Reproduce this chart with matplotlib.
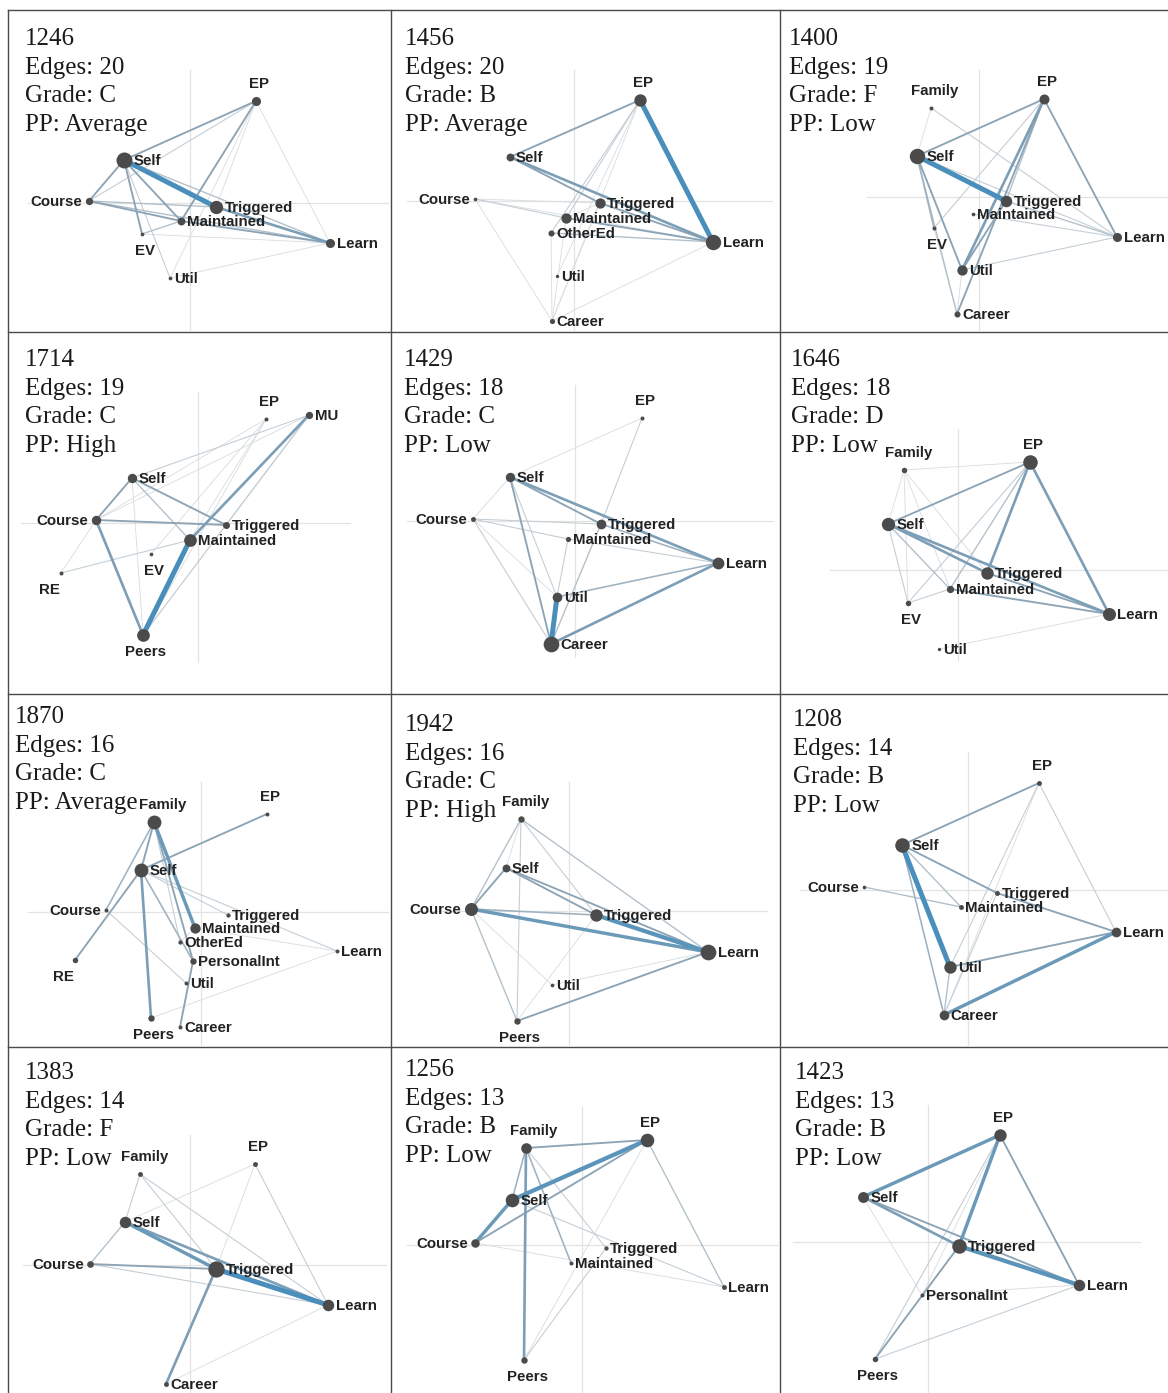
import numpy as np
import matplotlib.pyplot as plt
from matplotlib.colors import to_rgb

# participant info shown in each panel header
ids = ['1246', '1456', '1400', '1714', '1429', '1646',
       '1870', '1942', '1208', '1383', '1256', '1423']
n_edges = [20, 20, 19, 19, 18, 18, 16, 16, 14, 14, 13, 13]
grades = ['C', 'B', 'F', 'C', 'C', 'D', 'C', 'C', 'B', 'F', 'B', 'B']
pp = ['Average', 'Average', 'Low', 'High', 'Low', 'Low',
      'Average', 'High', 'Low', 'Low', 'Low', 'Low']

# node layout per network: name -> (x, y, strength)
nodes_1246 = {'EP': (248, 91, 2.2), 'Self': (116, 150, 4.5), 'Course': (81, 191, 1.6),
              'Triggered': (208, 197, 3.6), 'Maintained': (173, 211, 1.8),
              'EV': (134, 224, 0.4), 'Learn': (322, 233, 2.2), 'Util': (162, 268, 0.4)}
nodes_1456 = {'EP': (248, 90, 3.3), 'Self': (118, 147, 1.8), 'Course': (83, 189, 0.4),
              'Triggered': (208, 193, 2.6), 'Maintained': (174, 208, 2.6),
              'OtherEd': (159, 223, 1.2), 'Learn': (321, 232, 4.3),
              'Util': (165, 266, 0.3), 'Career': (160, 311, 0.9)}
nodes_1400 = {'Family': (151, 98, 0.5), 'EP': (264, 89, 2.5), 'Self': (137, 146, 4.3),
              'Triggered': (226, 191, 3.0), 'Maintained': (193, 204, 0.4),
              'EV': (154, 218, 0.5), 'Learn': (337, 227, 2.2), 'Util': (182, 260, 2.6),
              'Career': (177, 304, 1.2)}
nodes_1714 = {'EP': (258, 87, 0.5), 'MU': (301, 83, 1.6), 'Self': (124, 146, 2.3),
              'Course': (88, 188, 2.3), 'Triggered': (218, 193, 1.5),
              'Maintained': (182, 208, 3.4), 'EV': (143, 222, 0.4), 'RE': (53, 241, 0.5),
              'Peers': (135, 303, 3.4)}
nodes_1429 = {'EP': (250, 86, 0.5), 'Self': (118, 145, 2.3), 'Course': (81, 187, 0.8),
              'Triggered': (209, 192, 2.4), 'Maintained': (176, 207, 0.9),
              'Learn': (326, 231, 3.1), 'Util': (165, 265, 2.4), 'Career': (159, 312, 4.4)}
nodes_1646 = {'Family': (124, 138, 1.0), 'EP': (250, 130, 4.0), 'Self': (108, 192, 3.6),
              'Triggered': (207, 241, 3.3), 'Maintained': (170, 257, 1.6),
              'EV': (128, 271, 1.0), 'Learn': (329, 282, 3.5), 'Util': (159, 317, 0.3)}
nodes_1870 = {'Family': (146, 128, 3.8), 'EP': (259, 120, 0.5), 'Self': (133, 176, 3.8),
              'Course': (98, 216, 0.5), 'Triggered': (220, 221, 0.6),
              'Maintained': (187, 234, 2.6), 'OtherEd': (172, 248, 0.6),
              'PersonalInt': (185, 267, 1.3), 'Util': (178, 289, 0.5),
              'Learn': (329, 257, 0.5), 'RE': (67, 266, 1.0), 'Peers': (143, 324, 1.3),
              'Career': (172, 333, 0.5)}
nodes_1942 = {'Family': (129, 125, 1.3), 'Self': (114, 174, 1.8), 'Course': (79, 215, 3.5),
              'Triggered': (204, 221, 3.3), 'Learn': (316, 258, 4.4),
              'Util': (160, 291, 0.4), 'Peers': (125, 327, 1.3)}
nodes_1208 = {'EP': (259, 89, 0.8), 'Self': (122, 151, 4.0), 'Course': (84, 193, 0.4),
              'Triggered': (217, 199, 0.8), 'Maintained': (181, 213, 0.8),
              'Learn': (336, 238, 2.4), 'Util': (170, 273, 3.3), 'Career': (164, 321, 2.4)}
nodes_1383 = {'Family': (132, 127, 0.8), 'EP': (247, 117, 0.8), 'Self': (117, 175, 3.0),
              'Course': (82, 217, 1.4), 'Triggered': (208, 222, 4.6),
              'Learn': (320, 258, 3.0), 'Career': (158, 337, 0.8)}
nodes_1256 = {'Family': (134, 101, 2.7), 'EP': (255, 93, 3.7), 'Self': (120, 153, 3.7),
              'Course': (83, 196, 2.0), 'Triggered': (214, 201, 0.6),
              'Maintained': (179, 216, 0.5), 'Learn': (332, 240, 0.8), 'Peers': (132, 313, 1.3)}
nodes_1423 = {'EP': (220, 88, 3.3), 'Self': (83, 150, 2.8), 'Triggered': (179, 199, 4.0),
              'Learn': (299, 238, 3.0), 'PersonalInt': (142, 248, 0.5), 'Peers': (95, 312, 1.0)}

# edges: (from, to, weight 1..5)
edges_1246 = [('Self', 'Triggered', 5), ('Self', 'EP', 3), ('Self', 'Course', 3),
              ('Self', 'Maintained', 3), ('Self', 'EV', 3), ('Self', 'Util', 1.5),
              ('Self', 'Learn', 2), ('Course', 'EP', 1.5), ('Course', 'Triggered', 2),
              ('Course', 'Maintained', 3), ('Course', 'Learn', 2), ('EP', 'Maintained', 3),
              ('EP', 'Util', 1), ('EP', 'Learn', 1), ('Triggered', 'Learn', 3.5),
              ('Maintained', 'Learn', 3), ('Maintained', 'EV', 2), ('EV', 'Learn', 1),
              ('Util', 'Learn', 1), ('EP', 'Triggered', 1)]
edges_1456 = [('EP', 'Learn', 5), ('EP', 'Self', 3), ('Self', 'Triggered', 3),
              ('Self', 'Learn', 3.5), ('Triggered', 'Learn', 3), ('Maintained', 'Learn', 3),
              ('OtherEd', 'Learn', 2), ('Course', 'Triggered', 1), ('Course', 'Maintained', 1.5),
              ('Course', 'Career', 1), ('Course', 'Learn', 1), ('EP', 'Maintained', 1.5),
              ('EP', 'OtherEd', 1.5), ('EP', 'Util', 1), ('EP', 'Career', 1),
              ('OtherEd', 'Career', 1), ('Career', 'Learn', 1), ('Triggered', 'Career', 1),
              ('Maintained', 'Career', 1), ('Maintained', 'Triggered', 1)]
edges_1400 = [('Self', 'Triggered', 5), ('Self', 'EP', 3), ('Self', 'Family', 1),
              ('Self', 'Util', 3), ('Self', 'EV', 2.5), ('Self', 'Career', 2),
              ('EP', 'Util', 3.5), ('EP', 'Career', 3), ('EP', 'Triggered', 2),
              ('EP', 'EV', 1.5), ('EP', 'Learn', 3), ('Family', 'Learn', 1.5),
              ('Triggered', 'Learn', 2), ('Maintained', 'Learn', 1.5), ('Util', 'Learn', 1.5),
              ('Util', 'Triggered', 3), ('Util', 'Career', 1), ('EV', 'Career', 1),
              ('Self', 'Learn', 1.5)]
edges_1714 = [('Maintained', 'Peers', 5), ('Course', 'Peers', 3.5), ('MU', 'Maintained', 3.5),
              ('Self', 'Course', 3), ('Self', 'Triggered', 3), ('Self', 'Maintained', 2),
              ('Self', 'Peers', 1), ('Self', 'MU', 1.5), ('Course', 'Triggered', 3),
              ('Course', 'MU', 1), ('Course', 'RE', 1), ('RE', 'Maintained', 1.5),
              ('EP', 'EV', 1), ('EP', 'Peers', 1), ('EP', 'Maintained', 1),
              ('MU', 'Peers', 1.5), ('MU', 'Triggered', 1.5), ('Triggered', 'Peers', 1),
              ('EP', 'Course', 1)]
edges_1429 = [('Util', 'Career', 5), ('Self', 'Triggered', 3), ('Self', 'Learn', 3.5),
              ('Triggered', 'Learn', 2.5), ('Self', 'Career', 3), ('Self', 'Util', 1.5),
              ('Self', 'Course', 1), ('Self', 'EP', 1), ('EP', 'Triggered', 1.5),
              ('Triggered', 'Career', 2), ('Course', 'Triggered', 1.5),
              ('Course', 'Maintained', 1.5), ('Course', 'Career', 1.5), ('Course', 'Util', 1),
              ('Maintained', 'Learn', 1.5), ('Maintained', 'Util', 1.5),
              ('Career', 'Learn', 3.5), ('Util', 'Learn', 2.5)]
edges_1646 = [('EP', 'Learn', 3.5), ('EP', 'Self', 3), ('EP', 'Triggered', 3.5),
              ('EP', 'Maintained', 2), ('EP', 'EV', 1.5), ('EP', 'Family', 1),
              ('Self', 'Triggered', 3.5), ('Self', 'Learn', 3.5), ('Self', 'Maintained', 2),
              ('Self', 'Family', 1), ('Self', 'EV', 1.5), ('Family', 'EV', 1),
              ('Family', 'Triggered', 1), ('Triggered', 'Learn', 3), ('Maintained', 'Learn', 3),
              ('EV', 'Maintained', 1.5), ('Util', 'Learn', 1), ('Family', 'Maintained', 1)]
edges_1870 = [('Family', 'Maintained', 4), ('Family', 'Self', 3), ('Family', 'Course', 2.5),
              ('Family', 'PersonalInt', 3), ('Self', 'RE', 3), ('Self', 'EP', 3),
              ('Self', 'Peers', 3.5), ('Self', 'Triggered', 1.5), ('Self', 'Learn', 1.5),
              ('Self', 'PersonalInt', 2.5), ('Course', 'Util', 1.5), ('Peers', 'Learn', 1),
              ('PersonalInt', 'Career', 3), ('Maintained', 'OtherEd', 1),
              ('Maintained', 'Learn', 1), ('Family', 'OtherEd', 1.5)]
edges_1942 = [('Course', 'Learn', 4), ('Triggered', 'Learn', 4.5), ('Self', 'Triggered', 3),
              ('Self', 'Learn', 3), ('Course', 'Triggered', 2.5), ('Course', 'Self', 3),
              ('Course', 'Family', 2), ('Course', 'Peers', 2), ('Course', 'Util', 1),
              ('Family', 'Peers', 1.5), ('Family', 'Learn', 2), ('Family', 'Triggered', 1.5),
              ('Peers', 'Learn', 3), ('Util', 'Learn', 1), ('Peers', 'Triggered', 1),
              ('Family', 'Self', 1)]
edges_1208 = [('Self', 'Util', 5), ('Self', 'EP', 3), ('Self', 'Triggered', 3),
              ('Triggered', 'Learn', 3), ('Self', 'Maintained', 2), ('Self', 'Career', 2.5),
              ('Course', 'Maintained', 2), ('EP', 'Learn', 1.5), ('EP', 'Util', 1.5),
              ('Triggered', 'Career', 1.5), ('Util', 'Learn', 3), ('Career', 'Learn', 4),
              ('Util', 'Career', 2), ('EP', 'Career', 1)]
edges_1383 = [('Triggered', 'Learn', 5), ('Self', 'Triggered', 4), ('Self', 'Learn', 3.5),
              ('Course', 'Triggered', 3), ('Course', 'Self', 2), ('Course', 'Learn', 1.5),
              ('Family', 'Self', 1.5), ('Family', 'Triggered', 1.5), ('Family', 'Learn', 1.5),
              ('EP', 'Self', 1), ('EP', 'Learn', 1.5), ('EP', 'Triggered', 1),
              ('Triggered', 'Career', 3.5), ('Career', 'Learn', 1)]
edges_1256 = [('Self', 'EP', 4.5), ('Course', 'Self', 4), ('Course', 'EP', 3),
              ('Family', 'EP', 3), ('Family', 'Self', 2.5), ('Family', 'Peers', 3.5),
              ('Family', 'Maintained', 2.5), ('Family', 'Triggered', 1.5), ('Self', 'Learn', 1.5),
              ('Course', 'Learn', 1), ('EP', 'Learn', 2), ('EP', 'Peers', 1),
              ('Triggered', 'Peers', 1.5)]
edges_1423 = [('Self', 'EP', 4), ('EP', 'Triggered', 4), ('Self', 'Triggered', 3.5),
              ('Triggered', 'Learn', 4.5), ('Self', 'Learn', 3), ('EP', 'Learn', 3),
              ('EP', 'Peers', 1.5), ('EP', 'PersonalInt', 1), ('Triggered', 'Peers', 3),
              ('Self', 'PersonalInt', 1), ('PersonalInt', 'Learn', 1), ('Peers', 'Learn', 1.5),
              ('Triggered', 'PersonalInt', 1)]

networks = [(nodes_1246, edges_1246), (nodes_1456, edges_1456), (nodes_1400, edges_1400),
            (nodes_1714, edges_1714), (nodes_1429, edges_1429), (nodes_1646, edges_1646),
            (nodes_1870, edges_1870), (nodes_1942, edges_1942), (nodes_1208, edges_1208),
            (nodes_1383, edges_1383), (nodes_1256, edges_1256), (nodes_1423, edges_1423)]

# panel grid (pixels)
col_x = [8, 392, 780]
col_w = [384, 388, 388]
row_y = [10, 332, 694, 1047]
row_h = [322, 362, 353, 346]
W, H = 1168, 1393

# faint centre lines of each layout: (vx, vy0, vy1, hy, hx0, hx1)
cross = [(182, 60, 322, 193, 20, 380), (182, 60, 322, 191, 15, 380),
         (199, 60, 322, 187, 87, 388), (190, 60, 330, 191, 13, 342),
         (183, 53, 325, 189, 15, 381), (178, 97, 328, 238, 50, 388),
         (193, 88, 353, 218, 20, 380), (177, 88, 353, 217, 20, 375),
         (188, 58, 353, 196, 20, 388), (182, 88, 346, 218, 15, 378),
         (190, 60, 346, 198, 15, 388), (148, 58, 346, 195, 13, 360)]
# first header line (x, y centre) in panel
head_xy = [(17, 28), (13, 28), (9, 28), (17, 27), (12, 27), (11, 27),
           (7, 22), (13, 30), (13, 25), (17, 25), (13, 22), (15, 25)]

top_lab = {'EP', 'Family'}
bot_lab = {'EV', 'RE', 'Peers'}
left_lab = {'Course'}

w_pts = [1, 3, 5]
c_pts = np.array([to_rgb('#d7dcdf'), to_rgb('#8ca4b5'), to_rgb('#4a8fbc')])


def edge_style(w):
    col = [np.interp(w, w_pts, c_pts[:, k]) for k in range(3)]
    lw = np.interp(w, [1, 3, 5], [0.6, 1.35, 3.6])
    return col, lw


fig = plt.figure(figsize=(W / 100, H / 100), dpi=100)
fig.patch.set_facecolor('white')

# panel borders
bg = fig.add_axes([0, 0, 1, 1])
bg.set_xlim(0, W)
bg.set_ylim(H, 0)
bg.axis('off')
for x in [8, 391, 780]:
    bg.plot([x, x], [10, H], color='#4a4a4a', lw=1.0)
for y in [10, 332, 694, 1047]:
    bg.plot([8, W], [y, y], color='#4a4a4a', lw=1.0)

for i, (nodes, edges) in enumerate(networks):
    r, c = divmod(i, 3)
    x0, w = col_x[c], col_w[c]
    y0, h = row_y[r], row_h[r]
    ax = fig.add_axes([x0 / W, 1 - (y0 + h) / H, w / W, h / H])
    ax.set_xlim(0, w)
    ax.set_ylim(h, 0)
    ax.axis('off')
    ax.patch.set_alpha(0)

    vx, vy0, vy1, hy, hx0, hx1 = cross[i]
    ax.plot([vx, vx], [vy0, vy1], color='#e3e3e3', lw=0.9, zorder=0)
    ax.plot([hx0, hx1], [hy, hy], color='#e3e3e3', lw=0.9, zorder=0)

    for a, b, wt in sorted(edges, key=lambda e: e[2]):
        col, lw = edge_style(wt)
        ax.plot([nodes[a][0], nodes[b][0]], [nodes[a][1], nodes[b][1]],
                color=col, lw=lw, solid_capstyle='round', zorder=1 + wt / 10)

    for name, (x, y, s) in nodes.items():
        d = 2.5 + 3.0 * s  # diameter in px
        ax.plot(x, y, 'o', ms=d * 0.72, color='#4b4b4b', mec='none', zorder=5)
        rad = d / 2
        kw = dict(fontsize=10.8, fontweight='bold', color='#222222',
                  family='Liberation Sans', zorder=6, clip_on=False)
        if name in top_lab:
            dx = 3 + 1.6 * s if name == 'Family' else 3
            ax.text(x + dx, y - 13, name, ha='center', va='baseline', **kw)
        elif name in bot_lab:
            dx = -12 if name == 'RE' else 3
            ax.text(x + dx, y + 21, name, ha='center', va='baseline', **kw)
        elif name in left_lab:
            ax.text(x - rad - 3, y + 5, name, ha='right', va='baseline', **kw)
        else:
            ax.text(x + rad + 2, y + 5, name, ha='left', va='baseline', **kw)

    hx, hy0 = head_xy[i]
    lines = [ids[i], 'Edges: %d' % n_edges[i], 'Grade: %s' % grades[i], 'PP: %s' % pp[i]]
    for k, t in enumerate(lines):
        ax.text(hx, hy0 + 7 + 28.7 * k, t, fontsize=18, family='Liberation Serif',
                color='#1a1a1a', ha='left', va='baseline', zorder=7)

fig.savefig('out.png', dpi=100, facecolor='white')
